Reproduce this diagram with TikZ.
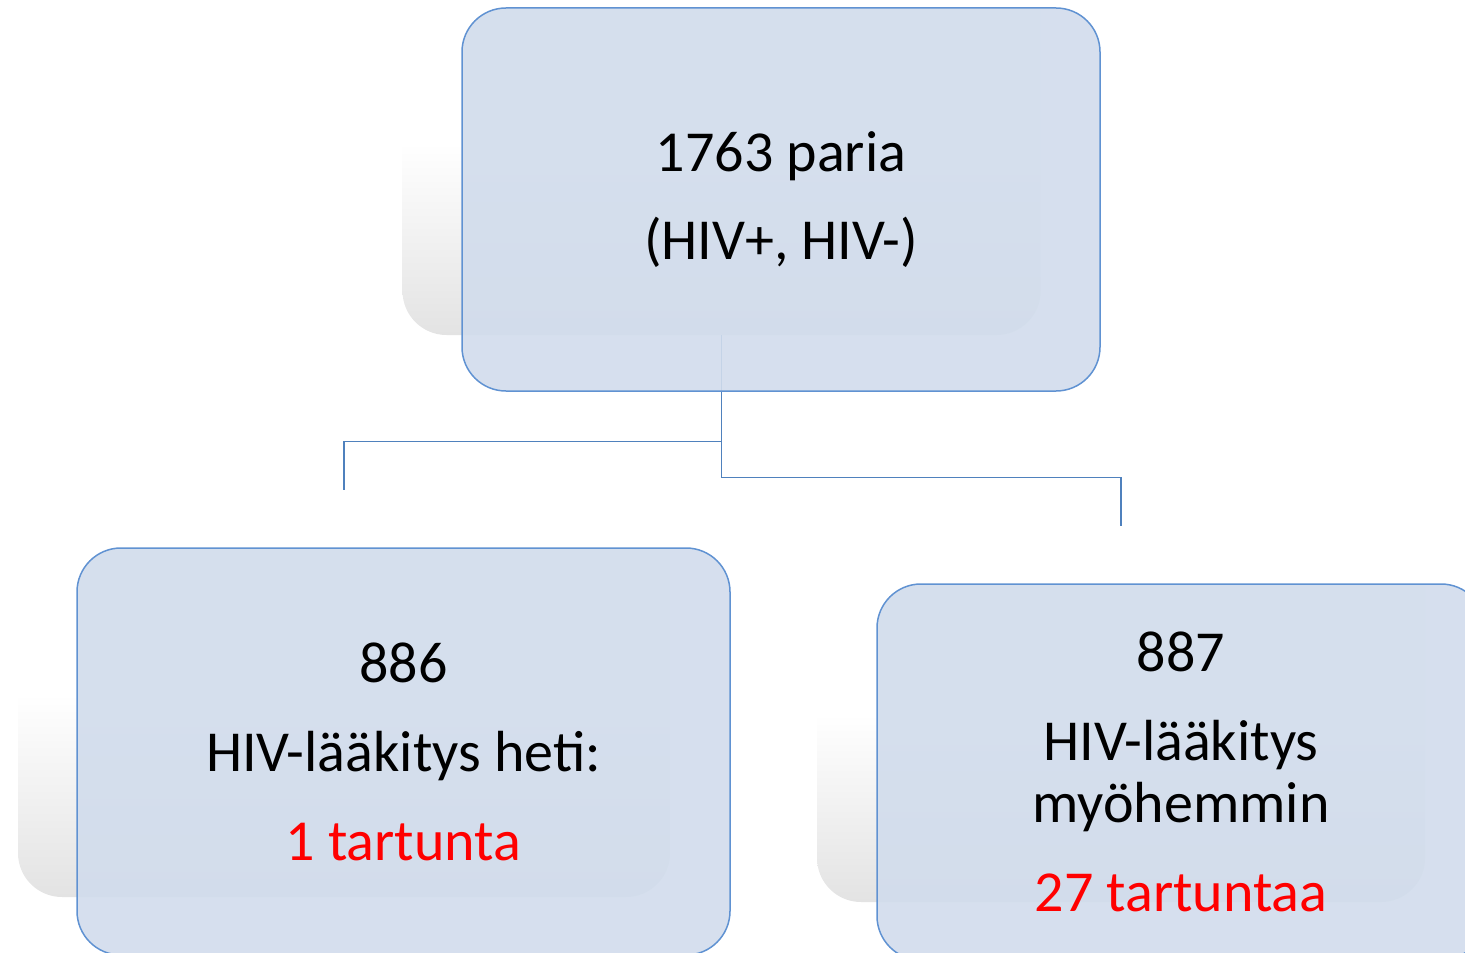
\documentclass[tikz,border=0pt]{standalone}
\usepackage{fontspec}
\setmainfont{Carlito}
\usepackage{tikz}

\begin{document}
\begin{tikzpicture}[x=0.5pt, y=-0.5pt,
        box/.style={draw=boxline, line width=0.75pt, fill=boxfill, fill opacity=0.9, text opacity=1,
            rounded corners=22pt, inner sep=0pt, align=center, font=\fontsize{29}{31}\selectfont},
        shadowbox/.style={rounded corners=22pt, inner sep=0pt, top color=white, bottom color=black!11, middle color=white},
        link/.style={draw=linkblue, line width=0.75pt}]
            \useasboundingbox (0,0) rectangle (1465,952);
            \clip (0,0) rectangle (1465,952);
            \xdefinecolor{boxfill}{RGB}{209, 220, 236}
            \xdefinecolor{boxline}{RGB}{96, 146, 210}
            \xdefinecolor{linkblue}{RGB}{79, 129, 189}

            % Draw the grey shadows first
            \node[shadowbox, minimum width=319pt, minimum height=191.5pt] (PairsShadow) at (721.5, 143.5) {};
            \node[shadowbox, minimum width=326pt, minimum height=203.5pt] (NowShadow) at (344, 693.5) {};
            \node[shadowbox, minimum width=304pt, minimum height=188pt] (LaterShadow) at (1121, 714) {};

            % Connect the top shadow to the two lower ones
            \draw[link] (PairsShadow.south) -- ++(0, 106) -| (NowShadow.north);
            \draw[link] (PairsShadow.south) -- ++(0, 142) -| (LaterShadow.north);

            % Draw the boxes on top
            \node[box, minimum width=319pt, minimum height=191.5pt] (Pairs) at (781, 199.5)
                {1763 paria\\[13pt](HIV+, HIV-)};
            \node[box, minimum width=326.5pt, minimum height=203.5pt] (Now) at (403.5, 751.5)
                {886\\[13.5pt]HIV-lääkitys heti:\\[13.5pt]\textcolor{red}{1 tartunta}};
            \node[box, minimum width=304pt, minimum height=188pt] (Later) at (1181, 772)
                {887\\[13.5pt]HIV-lääkitys\\myöhemmin\\[13.5pt]\textcolor{red}{27 tartuntaa}};

        \end{tikzpicture}
\end{document}
